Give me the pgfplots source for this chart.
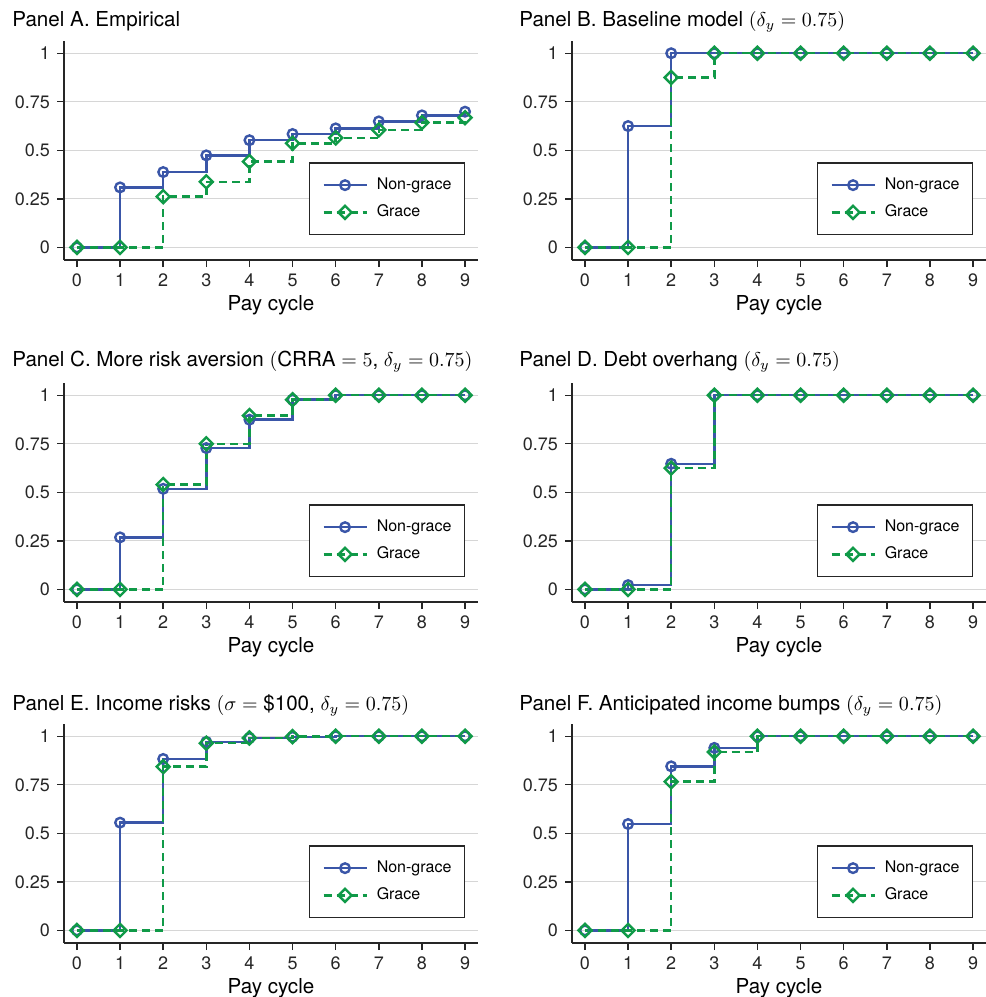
\documentclass[border=0pt]{standalone}
\usepackage[no-math]{fontspec}
\setmainfont{TeX Gyre Heros}
\usepackage{pgfplots}
\pgfplotsset{compat=1.18}

\definecolor{ngblue}{HTML}{3A56A8}
\definecolor{grgreen}{HTML}{109A48}
\definecolor{gridgray}{HTML}{D6D6D6}
\definecolor{axisgray}{HTML}{262626}

\pgfplotsset{
  every axis title shift=0pt,
  panel/.style 2 args={
    scale only axis, width=207pt, height=109.5pt,
    anchor=south west,
    xmin=-0.3, xmax=9.3, ymin=-0.065, ymax=1.063,
    axis lines*=left,
    axis line style={line width=0.7pt, axisgray},
    xtick={0,...,9}, ytick={0,0.25,0.5,0.75,1},
    tick align=outside, major tick length=3.5pt,
    tick style={line width=0.7pt, axisgray},
    ymajorgrids, grid style={gridgray, line width=0.6pt},
    /pgf/number format/assume math mode=true,
    ticklabel style={font=\fontsize{9}{10}\selectfont, text=axisgray},
    xlabel={Pay cycle},
    xlabel style={font=\fontsize{10.3}{12}\selectfont, at={(axis description cs:0.5,0)}, anchor=base, yshift=-25pt},
    title style={font=\fontsize{10.3}{12}\selectfont, at={(axis description cs:0,1)},
      anchor=base west, inner sep=0pt, xshift=#1, yshift=#2},
    legend style={at={(axis description cs:0.9686,0.114)}, anchor=south east,
      draw=axisgray, line width=0.6pt, fill=white,
      font=\fontsize{8}{9.5}\selectfont, inner xsep=6.5pt, inner ysep=6.75pt,
      row sep=5pt, column sep=4.5pt,
      nodes={inner sep=0pt, text height=6.6pt, text depth=2pt},
      cells={anchor=west}},
    legend image code/.code={
      \draw[mark repeat=2, mark phase=2] plot coordinates {(0pt,0pt) (10.75pt,0pt) (21.5pt,0pt)};},
  },
  nongrace/.style={const plot, ngblue, line width=1.25pt, mark=o, mark size=2.4pt,
    mark options={solid, line width=1.2pt}},
  grace/.style={const plot, grgreen, line width=1.25pt, dash pattern=on 4pt off 2.5pt,
    mark=square, mark size=2.3pt, mark options={solid, rotate=45, line width=1.2pt}},
}

\begin{document}
\begin{tikzpicture}
\useasboundingbox (0pt,0pt) rectangle (493pt,-498.5pt);

% Panel A
\begin{axis}[panel={-26pt}{7.2pt}, at={(32pt,-130pt)}, title={Panel A. Empirical}]
\addplot[nongrace] coordinates {(0,0) (1,0.309) (2,0.388) (3,0.474) (4,0.552) (5,0.584) (6,0.613) (7,0.649) (8,0.680) (9,0.699)};
\addplot[grace] coordinates {(0,0) (1,0) (2,0.261) (3,0.338) (4,0.442) (5,0.536) (6,0.564) (7,0.605) (8,0.643) (9,0.668)};
\legend{Non-grace, Grace}
\end{axis}

% Panel B
\begin{axis}[panel={-26.5pt}{7.2pt}, at={(286pt,-130pt)},
  title={Panel B. Baseline model $(\delta_y = 0.75)$}]
\addplot[nongrace] coordinates {(0,0) (1,0.625) (2,1) (3,1) (4,1) (5,1) (6,1) (7,1) (8,1) (9,1)};
\addplot[grace] coordinates {(0,0) (1,0) (2,0.875) (3,1) (4,1) (5,1) (6,1) (7,1) (8,1) (9,1)};
\legend{Non-grace, Grace}
\end{axis}

% Panel C
\begin{axis}[panel={-26pt}{8.2pt}, at={(32pt,-301pt)},
  title={Panel C. More risk aversion $($CRRA $= 5$, $\delta_y = 0.75)$}]
\addplot[nongrace] coordinates {(0,0) (1,0.268) (2,0.518) (3,0.728) (4,0.874) (5,0.977) (6,1) (7,1) (8,1) (9,1)};
\addplot[grace] coordinates {(0,0) (1,0) (2,0.540) (3,0.750) (4,0.895) (5,0.977) (6,1) (7,1) (8,1) (9,1)};
\legend{Non-grace, Grace}
\end{axis}

% Panel D
\begin{axis}[panel={-26.5pt}{8.2pt}, at={(286pt,-301pt)},
  title={Panel D. Debt overhang $(\delta_y = 0.75)$}]
\addplot[nongrace] coordinates {(0,0) (1,0.022) (2,0.647) (3,1) (4,1) (5,1) (6,1) (7,1) (8,1) (9,1)};
\addplot[grace] coordinates {(0,0) (1,0) (2,0.625) (3,1) (4,1) (5,1) (6,1) (7,1) (8,1) (9,1)};
\legend{Non-grace, Grace}
\end{axis}

% Panel E
\begin{axis}[panel={-26pt}{7pt}, at={(32pt,-471.5pt)},
  title={Panel E. Income risks $(\sigma =$ \$100, $\delta_y = 0.75)$}]
\addplot[nongrace] coordinates {(0,0) (1,0.555) (2,0.883) (3,0.971) (4,0.991) (5,0.997) (6,1) (7,1) (8,1) (9,1)};
\addplot[grace] coordinates {(0,0) (1,0) (2,0.843) (3,0.964) (4,0.991) (5,0.998) (6,1) (7,1) (8,1) (9,1)};
\legend{Non-grace, Grace}
\end{axis}

% Panel F
\begin{axis}[panel={-26.5pt}{7pt}, at={(286pt,-471.5pt)},
  title={Panel F. Anticipated income bumps $(\delta_y = 0.75)$}]
\addplot[nongrace] coordinates {(0,0) (1,0.548) (2,0.845) (3,0.940) (4,1) (5,1) (6,1) (7,1) (8,1) (9,1)};
\addplot[grace] coordinates {(0,0) (1,0) (2,0.766) (3,0.919) (4,1) (5,1) (6,1) (7,1) (8,1) (9,1)};
\legend{Non-grace, Grace}
\end{axis}
\end{tikzpicture}
\end{document}
